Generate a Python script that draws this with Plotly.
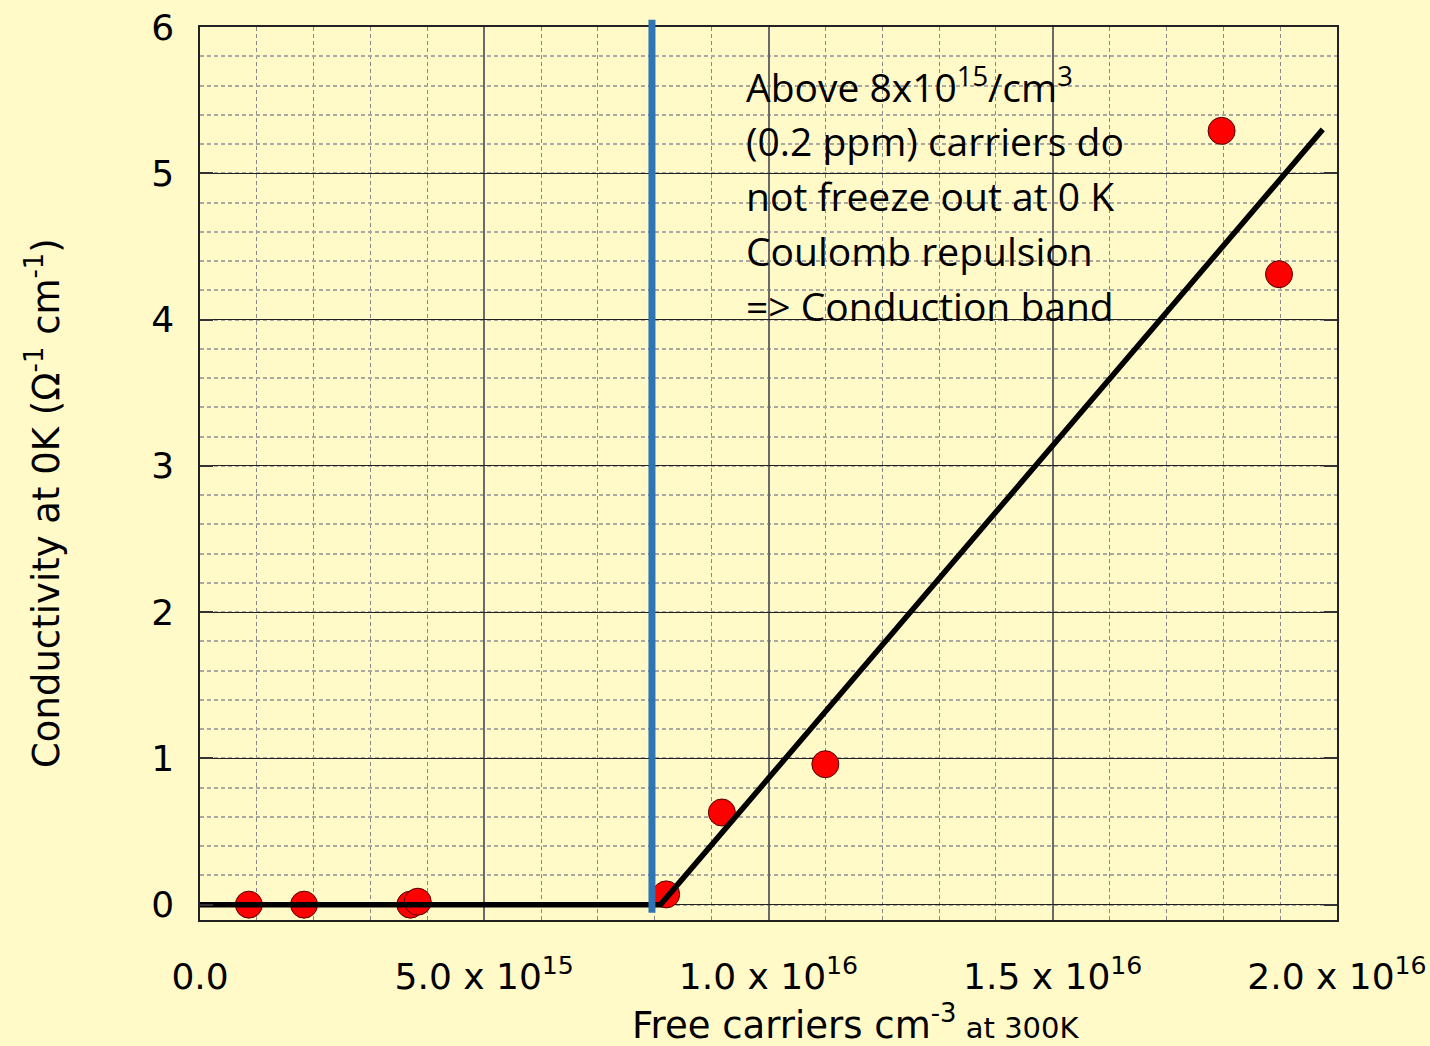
import plotly.graph_objects as go

# data points (free carriers cm^-3 at 300K, conductivity at 0K)
carriers = [0.86e15, 1.83e15, 3.70e15, 3.83e15, 8.20e15, 9.18e15, 1.10e16, 1.797e16, 1.898e16]
conductivity = [0.0, 0.0, 0.0, 0.02, 0.07, 0.63, 0.96, 5.29, 4.31]

# guide line (piecewise fit)
fit_x = [-0.12e15, 8.1e15, 1.975e16]
fit_y = [0.0, 0.0, 5.30]

# threshold
threshold_x = 7.95e15

x_tickvals = [0, 5e15, 1e16, 1.5e16, 2e16]
x_ticktext = ["0.0", "5.0 x 10<sup>15</sup>", "1.0 x 10<sup>16</sup>",
              "1.5 x 10<sup>16</sup>", "2.0 x 10<sup>16</sup>"]
y_tickvals = [0, 1, 2, 3, 4, 5, 6]

note_lines = [
    "Above 8x10<sup>15</sup>/cm<sup>3</sup>",
    "(0.2 ppm) carriers do",
    "not freeze out at 0 K",
    "Coulomb repulsion",
    "=> Conduction band",
]

BG = "#FFFAC8"
FONT = "DejaVu Sans"

fig = go.Figure()
fig.add_trace(go.Scatter(
    x=carriers, y=conductivity, mode="markers",
    marker=dict(size=27, color="#FF0000", line=dict(width=1, color="#500000")),
    cliponaxis=False, showlegend=False,
))
fig.add_trace(go.Scatter(
    x=fit_x, y=fit_y, mode="lines",
    line=dict(color="black", width=5.5), cliponaxis=False, showlegend=False,
))

fig.add_shape(type="line", xref="x", yref="paper",
              x0=threshold_x, x1=threshold_x, y0=0.008, y1=1.008,
              line=dict(color="#2E75B6", width=7), layer="above")

W, H = 1430, 1046
L, R, T, B = 200, 93, 27, 126
pw, ph = W - L - R, H - T - B

def px_x(p):
    return (p - L) / pw

def px_y(p):
    return (H - B - p) / ph

for i, line in enumerate(note_lines):
    base = 98 + 55 * i
    fig.add_annotation(
        text=line, xref="paper", yref="paper",
        x=px_x(744), y=px_y(base - 13), xanchor="left", yanchor="middle",
        showarrow=False, font=dict(family="Open Sans", size=39, color="black"),
    )

fig.add_annotation(
    text="Free carriers cm<sup>-3</sup><span style='font-size:29px'> at 300K</span>",
    xref="paper", yref="paper", x=px_x(856), y=px_y(1022), xanchor="center", yanchor="middle",
    showarrow=False, font=dict(family=FONT, size=37, color="black"),
)
fig.add_annotation(
    text="Conductivity at 0K (Ω<sup>-1</sup> cm<sup>-1</sup>)",
    xref="paper", yref="paper", x=px_x(44), y=px_y(503), xanchor="center", yanchor="middle",
    textangle=-90, showarrow=False,
    font=dict(family=FONT, size=37, color="black"),
)

fig.update_layout(
    width=W, height=H,
    margin=dict(l=L, r=R, t=T, b=B, autoexpand=False),
    paper_bgcolor=BG, plot_bgcolor=BG,
    font=dict(family=FONT, size=36, color="black"),
    showlegend=False,
)
fig.update_xaxes(
    range=[0, 2e16], tickvals=x_tickvals, ticktext=x_ticktext, automargin=False,
    showgrid=True, gridcolor="#6A6A6A", gridwidth=1.5,
    minor=dict(dtick=1e15, tick0=0, showgrid=True, gridcolor="#888888", griddash="4px,3px", gridwidth=1),
    showline=True, linecolor="#222222", linewidth=1.5, mirror=True,
    zeroline=False, ticks="", ticklabelstandoff=24,
    tickfont=dict(family=FONT, size=36),
)
fig.update_yaxes(
    range=[-0.105, 6], tickvals=y_tickvals, automargin=False,
    showgrid=True, gridcolor="#222222", gridwidth=1,
    minor=dict(dtick=0.2, tick0=0, showgrid=True, gridcolor="#A8A8A0", griddash="4px,3px", gridwidth=1.5),
    showline=True, linecolor="#222222", linewidth=1.5, mirror="ticks",
    zeroline=False, ticks="inside", ticklen=13, tickwidth=2, tickcolor="#333333",
    ticklabelstandoff=17, tickfont=dict(family=FONT, size=36),
)

fig.write_html("out.html", config={"displayModeBar": False},
               post_script="document.body.style.margin='0';document.body.style.overflow='hidden';")
